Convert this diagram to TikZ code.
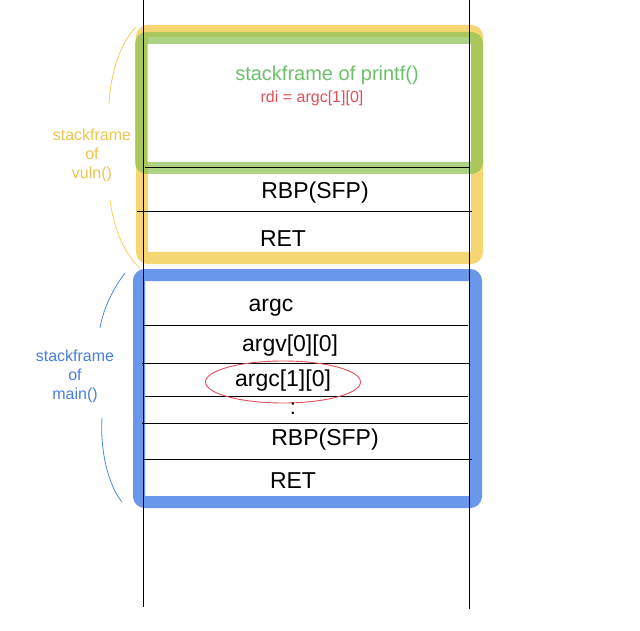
\documentclass[tikz,border=0pt]{standalone}
\usepackage{fontspec}
\setmainfont{Liberation Sans}
\usetikzlibrary{shapes.geometric}
\definecolor{fyellow}{HTML}{F5CF5A}
\definecolor{fgreen}{HTML}{8CC152}
\definecolor{fblue}{HTML}{4F86E8}
\definecolor{tgreen}{HTML}{6CC06A}
\definecolor{tred}{HTML}{E0505A}
\definecolor{tyellow}{HTML}{EEC54E}
\definecolor{tblue}{HTML}{4A7FE0}
\begin{document}
\begin{tikzpicture}[x=1pt,y=-1pt,
  frame/.style={line width=12pt,rounded corners=6pt,opacity=0.85},
  sep/.style={line width=0.9pt,black},
  cell/.style={font=\fontsize{23}{24}\selectfont,inner sep=0pt},
  side/.style={font=\fontsize{16}{19}\selectfont,align=center,inner sep=0pt},
  brk/.style={line width=0.8pt}]
\useasboundingbox (0,0) rectangle (640,631);
\fill[white] (0,0) rectangle (640,631);
% frames
\draw[frame,fyellow] (142,31) rectangle (477,258);
\draw[frame,fgreen,opacity=0.7] (141,38) rectangle (477,168);
\draw[frame,fblue] (139,275) rectangle (476,502);
% vertical lines
\draw[sep] (143,0) -- (143,607);
\draw[sep] (469,0) -- (469,609);
% separators
\draw[sep] (145,167) -- (469,167);
\draw[sep] (137,211) -- (472,211);
\draw[sep] (144,325) -- (468,325);
\draw[sep] (142,363) -- (469,363);
\draw[sep] (145,396) -- (468,396);
\draw[sep] (142,423) -- (468,423);
\draw[sep] (144,459) -- (472,459);
% top texts
\node[font=\fontsize{20}{21}\selectfont,text=tgreen,inner sep=0pt] (pf) at (327,75) {stackframe of printf()};
\node[font=\fontsize{16}{17}\selectfont,text=tred,inner sep=0pt] (rdi) at (312,98) {rdi = argc[1][0]};
\node[cell] (rbp1) at (315,193) {RBP(SFP)};
\node[cell] (ret1) at (283,239) {RET};
% main texts
\node[cell] (argc) at (271,308) {argc};
\node[cell] (argv) at (290,346) {argv[0][0]};
\node[cell] (argc1) at (283,381) {argc[1][0]};
\node[draw=tred,line width=0.9pt,ellipse,minimum width=155pt,minimum height=42pt,inner sep=0pt] (ell) at (283,382) {};
\node[cell,font=\fontsize{22}{23}\selectfont] (dots) at (293,409) {:};
\node[cell] (rbp2) at (325,440) {RBP(SFP)};
\node[cell] (ret2) at (293,481) {RET};
% side labels
\node[side,text=tyellow] (vuln) at (92,155) {stackframe\\of\\vuln()};
\draw[brk,fyellow] (136,27) .. controls (118,45) and (110,80) .. (109,104);
\draw[brk,fyellow] (110,200) .. controls (114,230) and (125,255) .. (140,268);
\node[side,text=tblue] (mainl) at (75,376) {stackframe\\of\\main()};
\draw[brk,fblue] (125,273) .. controls (112,290) and (103,310) .. (100,328);
\draw[brk,fblue] (102,418) .. controls (100,450) and (108,485) .. (122,502);
\end{tikzpicture}
\end{document}
